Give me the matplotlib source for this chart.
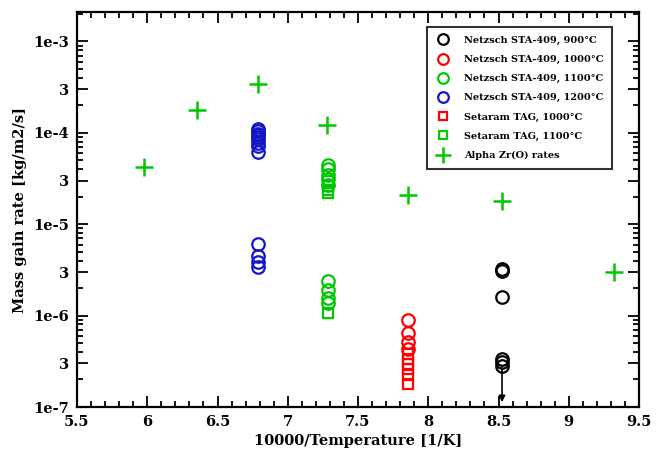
import numpy as np
import matplotlib
matplotlib.use('Agg')
import matplotlib.pyplot as plt
from matplotlib.ticker import FixedLocator, LogLocator, MultipleLocator, NullFormatter

# 10000/T positions for each furnace temperature
x900 = 8.525
x1000 = 7.856
x1100 = 7.283
x1200 = 6.788

# Netzsch STA-409 rates [kg/m2/s]
netzsch900 = [3.25e-6, 3.1e-6, 1.6e-6, 3.35e-7, 3.1e-7, 2.8e-7]
netzsch1000 = [9.0e-7, 6.5e-7, 5.2e-7, 4.3e-7]
netzsch1100 = [4.5e-5, 4.0e-5, 3.5e-5, 3.1e-5, 2.7e-5,
               2.4e-6, 1.9e-6, 1.57e-6, 1.38e-6]
netzsch1200 = [1.09e-4, 1.04e-4, 9.8e-5, 9.4e-5, 8.9e-5, 8.5e-5, 7.8e-5, 7.1e-5, 6.1e-5,
               6.1e-6, 4.5e-6, 3.9e-6, 3.4e-6]

# Setaram TAG rates
setaram1000 = [3.8e-7, 3.35e-7, 2.95e-7, 2.6e-7, 2.25e-7, 1.8e-7]
setaram1100 = [3.0e-5, 2.65e-5, 2.35e-5, 2.17e-5, 1.07e-6]

# Alpha Zr(O) rates
alpha_x = [5.977, 6.354, 6.79, 7.28, 7.856, 8.525, 9.32]
alpha_y = [4.2e-5, 1.8e-4, 3.4e-4, 1.23e-4, 2.1e-5, 1.78e-5, 3.0e-6]

ytick_vals = [1e-7, 3e-7, 1e-6, 3e-6, 1e-5, 3e-5, 1e-4, 3e-4, 1e-3]
ytick_labels = ['1e-7', '3', '1e-6', '3', '1e-5', '3', '1e-4', '3', '1e-3']

green = '#00c800'
blue = '#1414c8'
serif = 'DejaVu Serif'

fig = plt.figure(figsize=(6.62, 4.57), dpi=100)
ax = fig.add_axes([0.1163, 0.1094, 0.849, 0.8643])

circ = dict(marker='o', linestyle='none', markerfacecolor='none', markersize=9, markeredgewidth=1.6)
sq = dict(marker='s', linestyle='none', markerfacecolor='none', markersize=7, markeredgewidth=1.6)

ax.plot([x900] * len(netzsch900), netzsch900, color='black', label='Netzsch STA-409, 900°C', **circ)
ax.plot([x1000] * len(netzsch1000), netzsch1000, color='red', label='Netzsch STA-409, 1000°C', **circ)
ax.plot([x1100] * len(netzsch1100), netzsch1100, color=green, label='Netzsch STA-409, 1100°C', **circ)
ax.plot([x1200] * len(netzsch1200), netzsch1200, color=blue, label='Netzsch STA-409, 1200°C', **circ)
ax.plot([x1000] * len(setaram1000), setaram1000, color='red', label='Setaram TAG, 1000°C', **sq)
ax.plot([x1100] * len(setaram1100), setaram1100, color=green, label='Setaram TAG, 1100°C', **sq)
ax.plot(alpha_x, alpha_y, linestyle='none', marker='+', color=green, markersize=13,
        markeredgewidth=1.8, label='Alpha Zr(O) rates')

# upper limit arrow below the lowest 900°C point
ax.annotate('', xy=(x900, 1.13e-7), xytext=(x900, 2.75e-7),
            arrowprops=dict(arrowstyle='-|>', color='black', lw=1.2, mutation_scale=9,
                            shrinkA=0, shrinkB=0))

ax.set_yscale('log')
ax.set_xlim(5.5, 9.5)
ax.set_ylim(1e-7, 2.1e-3)

ax.xaxis.set_minor_locator(MultipleLocator(0.1))
ax.set_xticks([5.5, 6, 6.5, 7, 7.5, 8, 8.5, 9, 9.5])
ax.set_xticklabels(['5.5', '6', '6.5', '7', '7.5', '8', '8.5', '9', '9.5'])
ax.yaxis.set_major_locator(FixedLocator(ytick_vals))
ax.set_yticklabels(ytick_labels)
ax.yaxis.set_minor_locator(LogLocator(base=10, subs=[2, 4, 5, 6, 7, 8, 9]))
ax.yaxis.set_minor_formatter(NullFormatter())

ax.tick_params(which='both', direction='in', top=True, right=True, width=1.3, colors='black')
ax.tick_params(which='major', length=8, pad=6)
ax.tick_params(which='minor', length=4.5)
for lab in ax.get_xticklabels() + ax.get_yticklabels():
    lab.set_fontfamily(serif)
    lab.set_fontweight('bold')
    lab.set_fontsize(10.5)
for sp in ax.spines.values():
    sp.set_linewidth(1.6)

ax.set_xlabel('10000/Temperature [1/K]', family=serif, fontweight='bold', fontsize=10.5, labelpad=3)
ax.set_ylabel('Mass gain rate [kg/m2/s]', family=serif, fontweight='bold', fontsize=10.5, labelpad=4)

leg = ax.legend(loc='upper right', bbox_to_anchor=(0.952, 0.962), frameon=True, fancybox=False,
                prop={'family': serif, 'weight': 'bold', 'size': 7},
                markerscale=0.85, handlelength=1.6, handletextpad=1.3,
                labelspacing=1.05, borderpad=0.9, borderaxespad=0)
leg.get_frame().set_edgecolor('black')
leg.get_frame().set_linewidth(1.5)

fig.savefig('out.png', dpi=100)
